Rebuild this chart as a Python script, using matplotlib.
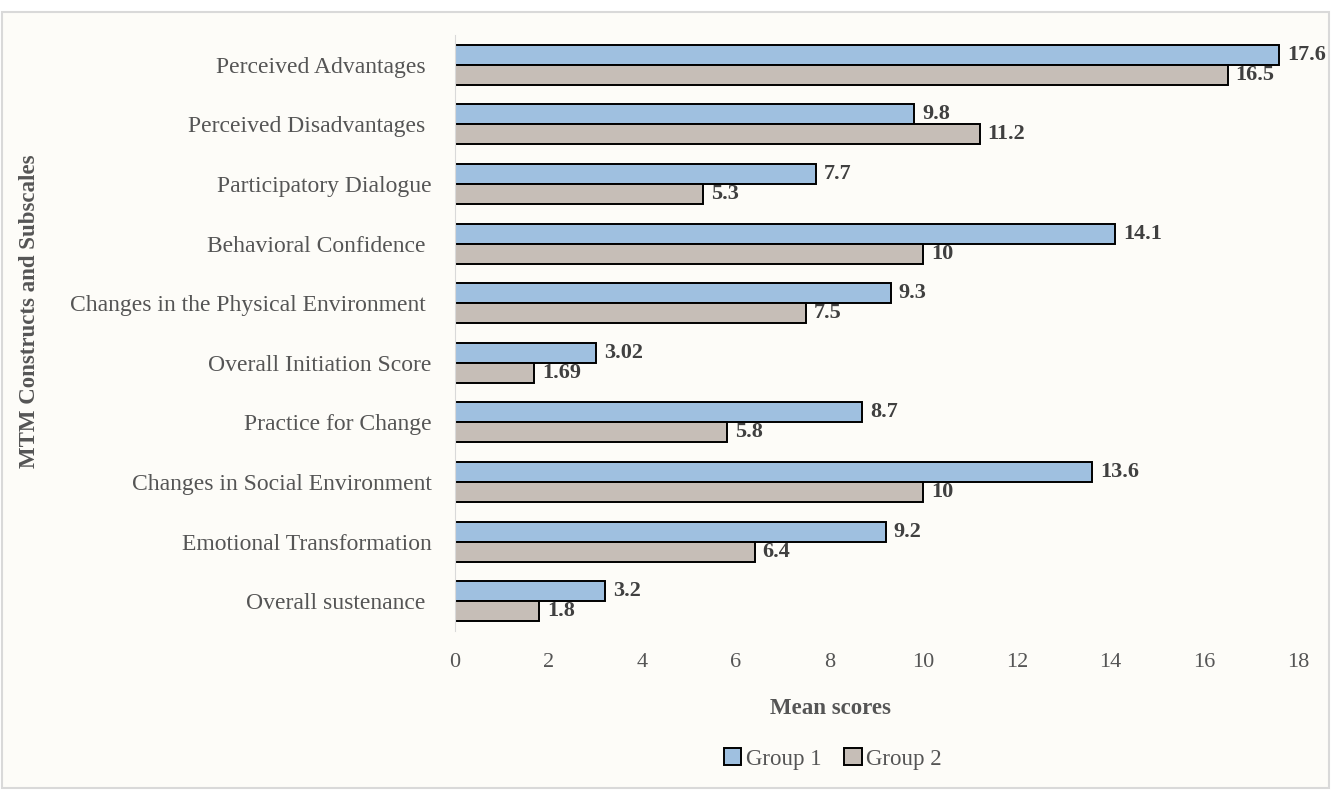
import matplotlib.pyplot as plt
from matplotlib.patches import Rectangle
import numpy as np

# trailing spaces kept as in the source chart labels
categories = [
    "Perceived Advantages ",
    "Perceived Disadvantages ",
    "Participatory Dialogue",
    "Behavioral Confidence ",
    "Changes in the Physical Environment ",
    "Overall Initiation Score",
    "Practice for Change",
    "Changes in Social Environment",
    "Emotional Transformation",
    "Overall sustenance ",
]
group1 = [17.6, 9.8, 7.7, 14.1, 9.3, 3.02, 8.7, 13.6, 9.2, 3.2]
group2 = [16.5, 11.2, 5.3, 10, 7.5, 1.69, 5.8, 10, 6.4, 1.8]
group1_labels = ["17.6", "9.8", "7.7", "14.1", "9.3", "3.02", "8.7", "13.6", "9.2", "3.2"]
group2_labels = ["16.5", "11.2", "5.3", "10", "7.5", "1.69", "5.8", "10", "6.4", "1.8"]
xticks = [0, 2, 4, 6, 8, 10, 12, 14, 16, 18]

blue = "#9fc0e0"
gray = "#c6beb7"
bg = "#fdfcf8"
txt = "#555555"
dark = "#404040"

plt.rcParams["font.family"] = ["Liberation Serif", "DejaVu Serif"]

fig = plt.figure(figsize=(13.31, 7.91), dpi=100, facecolor="white")
# light frame around the chart area
fig.patches.append(Rectangle((2 / 1331, 3 / 791), 1327 / 1331, 776 / 791,
                             transform=fig.transFigure, facecolor=bg,
                             edgecolor="#d9d9d9", linewidth=1.5, zorder=-1))
ax = fig.add_axes([455 / 1331, 1 - 631 / 791, 843 / 1331, 596 / 791])
ax.set_facecolor(bg)

y = np.arange(len(categories))
h = 0.335
ax.barh(y - h / 2, group1, height=h, color=blue, edgecolor="black",
        linewidth=1.4, label="Group 1")
ax.barh(y + h / 2, group2, height=h, color=gray, edgecolor="black",
        linewidth=1.4, label="Group 2")

for i in range(len(categories)):
    ax.text(group1[i] + 0.17, y[i] - h / 2, group1_labels[i], va="center",
            ha="left", fontsize=16, color=dark, fontweight="bold")
    ax.text(group2[i] + 0.17, y[i] + h / 2, group2_labels[i], va="center",
            ha="left", fontsize=16, color=dark, fontweight="bold")

ax.set_ylim(len(categories) - 0.5, -0.5)
ax.set_xlim(0, 18)
ax.set_yticks(y)
ax.set_yticklabels(categories, fontsize=17, color=txt)
ax.set_xticks(xticks)
ax.set_xticklabels([str(t) for t in xticks], fontsize=16, color=txt)
ax.tick_params(axis="both", length=0)
ax.tick_params(axis="y", pad=17)
ax.tick_params(axis="x", pad=16)

for side in ["top", "right", "bottom"]:
    ax.spines[side].set_visible(False)
ax.spines["left"].set_color("#d9d9d9")

fig.text(830 / 1331, 1 - 708 / 791, "Mean scores", ha="center", va="center",
         fontsize=16.5, color=txt, fontweight="bold")
fig.text(30 / 1331, 1 - 311 / 791, "MTM Constructs and Subscales", rotation=90,
         ha="center", va="center", fontsize=16.5, color=txt, fontweight="bold")

handles, labels = ax.get_legend_handles_labels()
leg = fig.legend(handles, labels, loc="center", bbox_to_anchor=(833 / 1331, 1 - 759 / 791),
                 ncol=2, frameon=False, fontsize=16.5, handlelength=0.75, handleheight=0.75,
                 handletextpad=0.2, columnspacing=1.0)
for t in leg.get_texts():
    t.set_color(txt)

fig.savefig("out.png", dpi=100, facecolor="white")
